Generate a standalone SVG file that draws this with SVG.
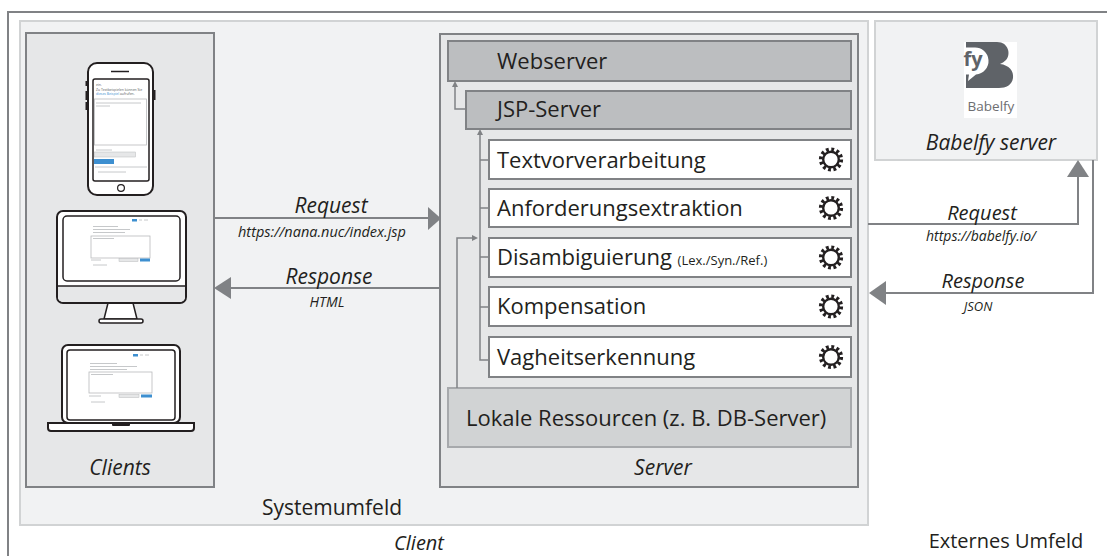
<svg xmlns="http://www.w3.org/2000/svg" width="1107" height="556" viewBox="0 0 1107 556">
  <style>
    text { font-family: "Open Sans", "Noto Sans", "Liberation Sans", sans-serif; fill: #231f20; }
    .it { font-style: italic; }
    .mid { text-anchor: middle; }
    .lbl { font-size: 21px; }
    .box { font-size: 22px; }
    .grp { fill: #e6e7e8; stroke: #808285; stroke-width: 2; }
    .env { fill: #f1f2f3; stroke: #d1d3d4; stroke-width: 2; }
    .srv { fill: #bcbec0; stroke: #808285; stroke-width: 2; }
    .mod { fill: #ffffff; stroke: #808285; stroke-width: 2; }
    .res { fill: #d1d3d4; stroke: #a7a9ac; stroke-width: 2; }
    .wire { fill: none; stroke: #808285; stroke-width: 2; }
    .thin { fill: none; stroke: #808285; stroke-width: 1.5; }
    .head { fill: #808285; }
    .dev { fill: #ffffff; stroke: #231f20; stroke-width: 2; }
    .scr { fill: #ffffff; stroke: #231f20; stroke-width: 1.5; }
    .ui { stroke: #b8babc; stroke-width: 0.8; fill: none; }
    .uib { fill: #3d8fd0; }
    .tiny { font-size: 3.4px; fill: #58595b; }
  </style>
  <defs>
    <!-- cog icon used on each processing module -->
    <g id="cog">
      <circle r="10.2" fill="none" stroke="#231f20" stroke-width="3.8" stroke-dasharray="2.8 2.54"/>
      <circle r="7.8" fill="#ffffff" stroke="#231f20" stroke-width="2.4"/>
    </g>
  </defs>

  <!-- outer frame -->
  <rect x="8" y="12" width="1120" height="580" fill="#ffffff" stroke="#808285" stroke-width="2"/>

  <!-- system environment -->
  <g id="systemumfeld">
    <rect class="env" x="20" y="21" width="848" height="504"/>
    <text class="lbl mid" x="332" y="515">Systemumfeld</text>
  </g>

  <!-- clients -->
  <g id="clients">
    <rect class="grp" x="26" y="33" width="188" height="454"/>
    <!-- smartphone -->
    <g id="phone">
      <rect x="85.5" y="81" width="3" height="5" fill="#231f20"/>
      <rect x="85.5" y="91" width="3" height="9" fill="#231f20"/>
      <rect x="85.5" y="102" width="3" height="8" fill="#231f20"/>
      <rect x="152.5" y="90" width="3" height="10" fill="#231f20"/>
      <rect class="dev" x="88" y="63" width="65" height="132" rx="9"/>
      <line x1="111" y1="71.5" x2="129" y2="71.5" stroke="#231f20" stroke-width="1.5"/>
      <circle cx="121" cy="188" r="3.4" fill="none" stroke="#231f20" stroke-width="1.2"/>
      <rect class="scr" x="93" y="79" width="56" height="102" rx="2"/>
      <text class="tiny" x="96" y="86">ein.</text>
      <text class="tiny" x="96" y="90.5">Zu Textbeispielen können Sie</text>
      <text class="tiny" x="96" y="95"><tspan fill="#3d8fd0">dieses Beispiel</tspan> aufrufen.</text>
      <rect class="ui" x="94.5" y="99" width="52" height="46"/>
      <line class="ui" x1="96" y1="103" x2="141" y2="103"/>
      <line class="ui" x1="96" y1="106" x2="110" y2="106"/>
      <line class="ui" x1="96" y1="150" x2="112" y2="150"/>
      <rect x="94.5" y="152" width="41" height="5" fill="#e6e7e8" stroke="#b8babc" stroke-width="0.5"/>
      <rect class="uib" x="94" y="159" width="20" height="5"/>
      <line class="ui" x1="95" y1="167" x2="147" y2="167"/>
      <line class="ui" x1="98" y1="172" x2="126" y2="172"/>
    </g>
    <!-- desktop monitor -->
    <g id="monitor">
      <path d="M108,303 L133,303 L137,319 L104,319 Z" fill="#ffffff" stroke="#231f20" stroke-width="1.5"/>
      <rect x="99" y="319" width="44" height="4" rx="2" fill="#ffffff" stroke="#231f20" stroke-width="1.5"/>
      <rect class="dev" x="57" y="211" width="129" height="92" rx="6"/>
      <path d="M58,286 H185 V297 a5,5 0 0 1 -5,5 H63 a5,5 0 0 1 -5,-5 Z" fill="#e6e7e8"/>
      <line x1="57" y1="286" x2="186" y2="286" stroke="#231f20" stroke-width="1.5"/>
      <rect class="scr" x="63" y="216" width="117" height="65" rx="4"/>
      <rect class="uib" x="132" y="219" width="5" height="2.5"/>
      <line class="ui" x1="139" y1="220" x2="142" y2="220"/>
      <line class="ui" x1="144" y1="220" x2="148" y2="220"/>
      <line class="ui" x1="93" y1="226.5" x2="118" y2="226.5"/>
      <line class="ui" x1="93" y1="229.5" x2="130" y2="229.5"/>
      <line class="ui" x1="93" y1="232.5" x2="125" y2="232.5"/>
      <rect class="ui" x="91" y="236" width="59" height="22"/>
      <line class="ui" x1="93" y1="238.5" x2="114" y2="238.5"/>
      <line class="ui" x1="91" y1="260" x2="101" y2="260"/>
      <rect x="119" y="258.5" width="19" height="3" fill="#e6e7e8" stroke="#b8babc" stroke-width="0.5"/>
      <rect class="uib" x="140" y="258.5" width="10" height="3"/>
      <line class="ui" x1="93" y1="265" x2="107" y2="265"/>
    </g>
    <!-- laptop -->
    <g id="laptop">
      <rect class="dev" x="62" y="345" width="118" height="78" rx="6"/>
      <rect class="scr" x="67" y="350" width="108" height="70" rx="3"/>
      <path d="M48,423 H194 V428 a3,3 0 0 1 -3,3 H51 a3,3 0 0 1 -3,-3 Z" fill="#ffffff" stroke="#231f20" stroke-width="2"/>
      <rect x="112" y="423" width="18" height="3" rx="1" fill="#231f20"/>
      <rect class="uib" x="133" y="354" width="5" height="2.5"/>
      <line class="ui" x1="140" y1="355" x2="143" y2="355"/>
      <line class="ui" x1="145" y1="355" x2="149" y2="355"/>
      <line class="ui" x1="90" y1="363.5" x2="117" y2="363.5"/>
      <line class="ui" x1="90" y1="366.5" x2="137" y2="366.5"/>
      <line class="ui" x1="90" y1="369.5" x2="127" y2="369.5"/>
      <rect class="ui" x="89" y="372" width="63" height="21"/>
      <line class="ui" x1="91" y1="374.5" x2="113" y2="374.5"/>
      <line class="ui" x1="89" y1="396" x2="101" y2="396"/>
      <rect x="119" y="394.5" width="20" height="3" fill="#e6e7e8" stroke="#b8babc" stroke-width="0.5"/>
      <rect class="uib" x="141" y="394.5" width="11" height="3"/>
      <line class="ui" x1="91" y1="402" x2="105" y2="402"/>
    </g>
    <text class="lbl it mid" x="120" y="475">Clients</text>
  </g>

  <!-- server -->
  <g id="server">
    <rect class="grp" x="440" y="34" width="418" height="453"/>
    <text class="lbl it mid" x="663" y="475">Server</text>
  </g>
  <g id="webserver">
    <rect class="srv" x="448" y="41" width="403" height="40"/>
    <text class="box" x="497" y="69">Webserver</text>
  </g>
  <g id="jsp-server">
    <rect class="srv" x="466" y="91" width="385" height="38"/>
    <text class="box" x="497" y="117">JSP-Server</text>
  </g>
  <g id="textvorverarbeitung">
    <rect class="mod" x="489" y="140" width="362" height="39"/>
    <text class="box" x="497" y="168">Textvorverarbeitung</text>
    <use href="#cog" x="831" y="159.5"/>
  </g>
  <g id="anforderungsextraktion">
    <rect class="mod" x="489" y="189" width="362" height="38"/>
    <text class="box" x="497" y="216">Anforderungsextraktion</text>
    <use href="#cog" x="831" y="208"/>
  </g>
  <g id="disambiguierung">
    <rect class="mod" x="489" y="238" width="362" height="39"/>
    <text class="box" x="497" y="265">Disambiguierung <tspan font-size="13px">(Lex./Syn./Ref.)</tspan></text>
    <use href="#cog" x="831" y="257.5"/>
  </g>
  <g id="kompensation">
    <rect class="mod" x="489" y="287" width="362" height="39"/>
    <text class="box" x="497" y="314">Kompensation</text>
    <use href="#cog" x="831" y="306.5"/>
  </g>
  <g id="vagheitserkennung">
    <rect class="mod" x="489" y="337" width="362" height="40"/>
    <text class="box" x="497" y="365">Vagheitserkennung</text>
    <use href="#cog" x="831" y="357"/>
  </g>
  <g id="lokale-ressourcen">
    <rect class="res" x="448" y="388" width="403" height="59"/>
    <text class="box" x="466" y="426">Lokale Ressourcen (z. B. DB-Server)</text>
  </g>

  <!-- external Babelfy service -->
  <g id="babelfy-server">
    <rect class="env" x="875" y="21" width="222" height="139"/>
    <rect x="964" y="42" width="53" height="76" fill="#ffffff"/>
    <path d="M966,42 H997 C1009,42 1011,55 1006,60 C1004,62 1002,63 1000,64 C1009,65 1014,71 1013,78 C1012,85 1006,88 999,88 H966 Z" fill="#5f6368"/>
    <path d="M965,47.5 H974 A13.5,13.5 0 0 1 976,74.5 L968,81 L969,74.5 H965 Z" fill="#ffffff"/>
    <text x="963.5" y="66" font-size="20px" font-weight="bold" font-family="Liberation Sans, sans-serif" style="fill:#5f6368">fy</text>
    <text x="991" y="111" font-size="13.5px" text-anchor="middle" font-family="Liberation Sans, sans-serif" style="fill:#6d6e71">Babelfy</text>
    <text class="lbl it mid" x="991" y="150">Babelfy server</text>
  </g>

  <!-- connectors -->
  <g id="connectors">
    <!-- client <-> server -->
    <path class="wire" d="M214,218 H429"/>
    <polygon class="head" points="428,207 428,230 441,218.5"/>
    <path class="wire" d="M440,288 H230"/>
    <polygon class="head" points="231,277 231,299 214,288"/>
    <!-- server <-> Babelfy -->
    <path class="wire" d="M868,224 H1078 V176"/>
    <polygon class="head" points="1067,177 1089,177 1078,160"/>
    <path class="wire" d="M1093,160 V293 H884"/>
    <polygon class="head" points="886,281 886,305 869,293"/>
    <!-- internal data flow -->
    <path class="thin" d="M466,109 H455 V86"/>
    <polygon class="head" points="452,87 458,87 455,81"/>
    <path class="thin" d="M489,360 H480 V134"/>
    <polygon class="head" points="477,135 483,135 480,129"/>
    <path class="thin" d="M480,160 H489 M480,208 H489 M480,257 H489 M480,307 H489"/>
    <path class="thin" d="M457,388 V238 H473"/>
    <polygon class="head" points="472,235 472,241 478,238"/>
  </g>

  <!-- connector labels -->
  <g id="connector-labels">
    <text class="lbl it mid" x="331" y="213">Request</text>
    <text class="it mid" x="322" y="237" font-size="14.5px">https://nana.nuc/index.jsp</text>
    <text class="lbl it mid" x="329" y="284">Response</text>
    <text class="it mid" x="327" y="307" font-size="14px">HTML</text>
    <text class="it mid" x="982" y="220" font-size="20px">Request</text>
    <text class="it mid" x="981" y="241" font-size="14px">https://babelfy.io/</text>
    <text class="it mid" x="983" y="288" font-size="20px">Response</text>
    <text class="it mid" x="978" y="311" font-size="13px">JSON</text>
  </g>

  <!-- zone labels -->
  <text class="it mid" x="419" y="550" font-size="20px">Client</text>
  <text class="mid" x="1006" y="548" font-size="20px">Externes Umfeld</text>
</svg>
